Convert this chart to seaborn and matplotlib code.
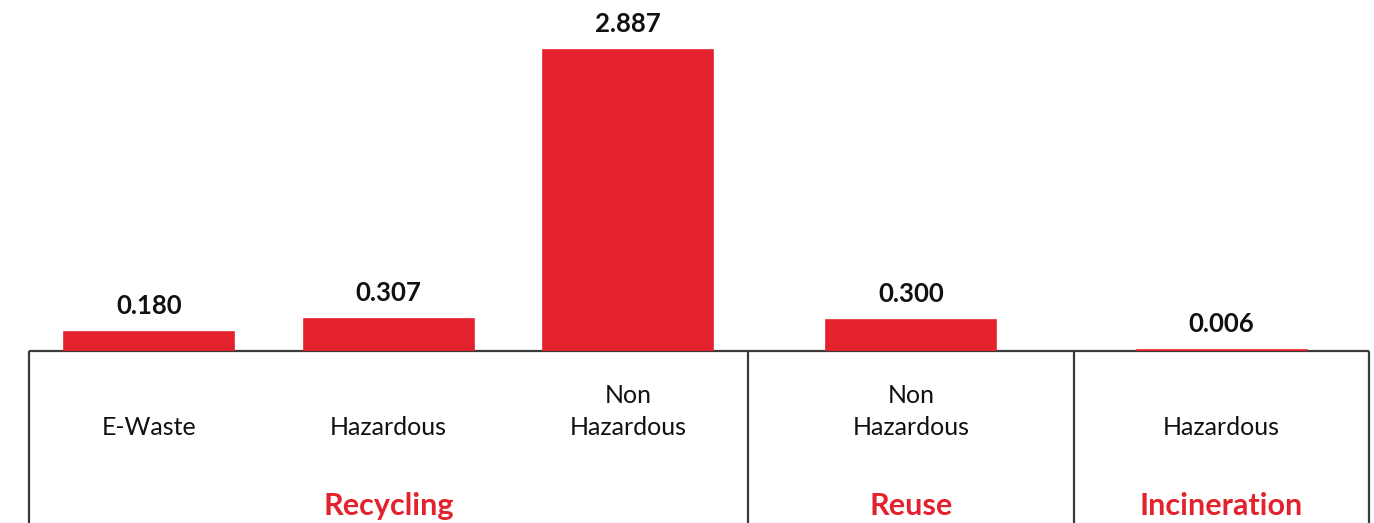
import matplotlib
matplotlib.use("Agg")
import matplotlib.pyplot as plt
import seaborn as sns
import numpy as np
import pandas as pd

# data
groups = ["Recycling", "Reuse", "Incineration"]
categories = ["E-Waste", "Hazardous", "Non\nHazardous", "Non\nHazardous", "Hazardous"]
category_group = ["Recycling", "Recycling", "Recycling", "Reuse", "Incineration"]
values = [0.180, 0.307, 2.887, 0.300, 0.006]

RED = "#E4222D"
LINE = "#3a3a3a"
W, H = 1374, 523
BASE = 351          # pixel row of the baseline
group_edges = [29, 748, 1074, 1369]  # pixel columns of the table cells

sns.set_theme(style="white")
plt.rcParams["font.family"] = ["Lato", "DejaVu Sans"]

fig = plt.figure(figsize=(W / 100, H / 100), dpi=100)
ax = fig.add_axes([0, (H - BASE) / H, 1, BASE / H])
tab = fig.add_axes([0, 0, 1, (H - BASE) / H], sharex=ax)

# bar centres = middle of each cell within its group box
centers = []
for g, (left, right) in zip(groups, zip(group_edges[:-1], group_edges[1:])):
    n = category_group.count(g)
    step = (right - left) / n
    centers += [left + step * (i + 0.5) for i in range(n)]

df = pd.DataFrame({"pos": centers, "value": values, "label": categories, "group": category_group})

min_gap = np.min(np.diff(sorted(df["pos"])))
sns.barplot(data=df, x="pos", y="value", native_scale=True, color=RED,
            saturation=1, width=170 / min_gap, edgecolor=RED, linewidth=1.2,
            zorder=3, ax=ax)

for p, v in zip(df["pos"], df["value"]):
    ax.annotate(f"{v:.3f}", (p, v), xytext=(0, 10), textcoords="offset points",
                ha="center", va="bottom", fontsize=18.5, fontweight="bold", color="#111111")

ax.set_xlim(0, W)
ax.set_ylim(0, max(values) * BASE / (BASE - 50))
ax.axis("off")
# top edge of the table, under the bars
ax.hlines(0, group_edges[0], group_edges[-1], color=LINE, lw=1.6, clip_on=False, zorder=1)

# table part below the bars
tab.set_ylim(H - BASE, 0)
tab.axis("off")
for e in group_edges:
    tab.vlines(e, 0, H - BASE, color=LINE, lw=1.6, clip_on=False)

for p, lab in zip(df["pos"], df["label"]):
    tab.text(p, 84, lab, ha="center", va="baseline", fontsize=18,
             color="#111111", linespacing=1.45, multialignment="center")

for g, left, right in zip(groups, group_edges[:-1], group_edges[1:]):
    tab.text((left + right) / 2, 164, g, ha="center", va="baseline",
             fontsize=22, fontweight="bold", color=RED)

fig.savefig("out.png", dpi=100)
